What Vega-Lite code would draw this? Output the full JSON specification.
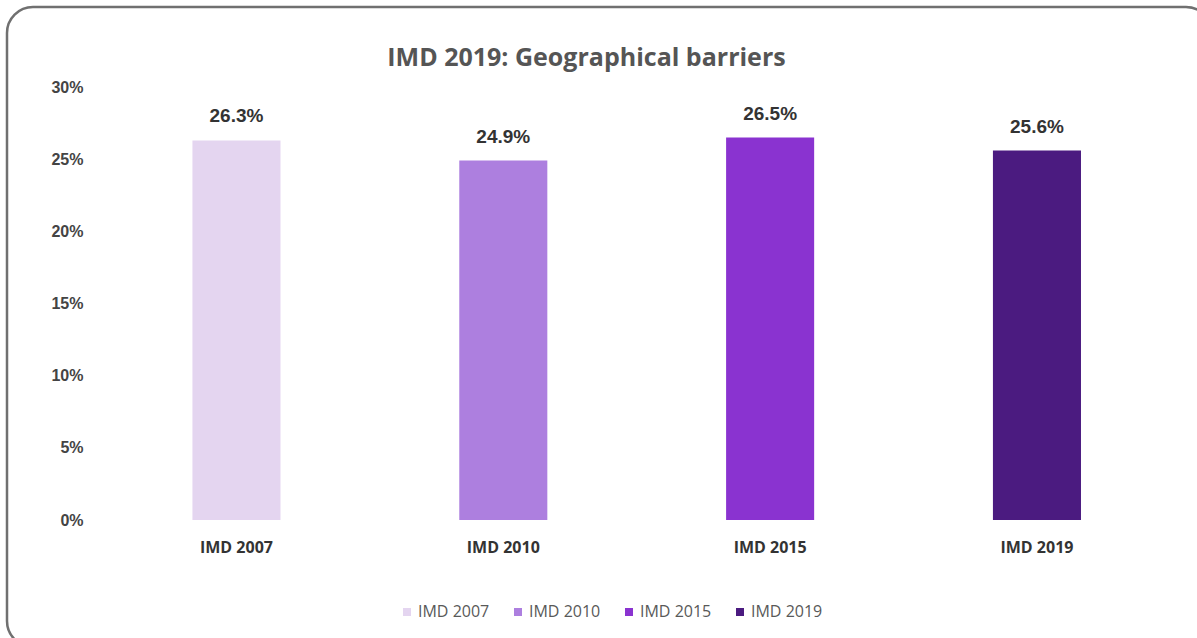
{
  "$schema": "https://vega.github.io/schema/vega-lite/v6.json",
  "autosize": "none",
  "width": 1205,
  "height": 640,
  "padding": {"left": 7, "top": 7, "right": -15, "bottom": -9},
  "background": "white",
  "config": {
    "view": {"stroke": "#707070", "strokeWidth": 2.5, "cornerRadius": 26},
    "font": "Liberation Sans"
  },
  "title": {
    "text": "IMD 2019: Geographical barriers",
    "anchor": "middle",
    "frame": "group",
    "orient": "top",
    "offset": -64,
    "dx": -23,
    "font": "Open Sans",
    "fontSize": 25,
    "fontWeight": "bold",
    "color": "#555555"
  },
  "data": {
    "values": [
      {"survey": "IMD 2007", "share": 0.263},
      {"survey": "IMD 2010", "share": 0.249},
      {"survey": "IMD 2015", "share": 0.265},
      {"survey": "IMD 2019", "share": 0.256}
    ]
  },
  "encoding": {
    "x": {
      "field": "survey",
      "type": "nominal",
      "sort": null,
      "scale": {"paddingInner": 0.67, "paddingOuter": 0.593, "align": 0.586},
      "axis": {
        "title": null,
        "orient": "bottom",
        "offset": -112,
        "domain": false,
        "ticks": false,
        "labelPadding": 4,
        "labelAngle": 0,
        "labelFont": "Open Sans",
        "labelFontWeight": "bold",
        "labelFontSize": 16,
        "labelColor": "#333333"
      }
    },
    "y": {
      "field": "share",
      "type": "quantitative",
      "scale": {"domain": [-0.08799, 0.35543], "nice": false, "zero": false},
      "axis": {
        "title": null,
        "orient": "left",
        "offset": -80,
        "domain": false,
        "ticks": false,
        "grid": false,
        "labelPadding": 4,
        "values": [0, 0.05, 0.1, 0.15, 0.2, 0.25, 0.3],
        "format": ".0%",
        "labelFont": "Liberation Sans",
        "labelFontWeight": "bold",
        "labelFontSize": 16,
        "labelColor": "#444444"
      }
    }
  },
  "layer": [
    {
      "mark": {"type": "bar"},
      "encoding": {
        "color": {
          "field": "survey",
          "type": "nominal",
          "sort": null,
          "scale": {"range": ["#e4d5f0", "#ad7fdf", "#8a33d0", "#4b1b80"]},
          "legend": {
            "title": null,
            "orient": "none",
            "direction": "horizontal",
            "legendX": 392,
            "legendY": 597,
            "padding": 0,
            "symbolType": "square",
            "symbolSize": 64,
            "symbolStrokeWidth": 0,
            "labelFont": "Open Sans",
            "labelFontSize": 16,
            "labelColor": "#595959",
            "labelOffset": 3,
            "columnPadding": 20
          }
        }
      }
    },
    {
      "mark": {
        "type": "text",
        "baseline": "alphabetic",
        "dy": -18,
        "font": "Liberation Sans",
        "fontWeight": "bold",
        "fontSize": 19,
        "color": "#333333"
      },
      "encoding": {
        "text": {"field": "share", "type": "quantitative", "format": ".1%"}
      }
    }
  ]
}
